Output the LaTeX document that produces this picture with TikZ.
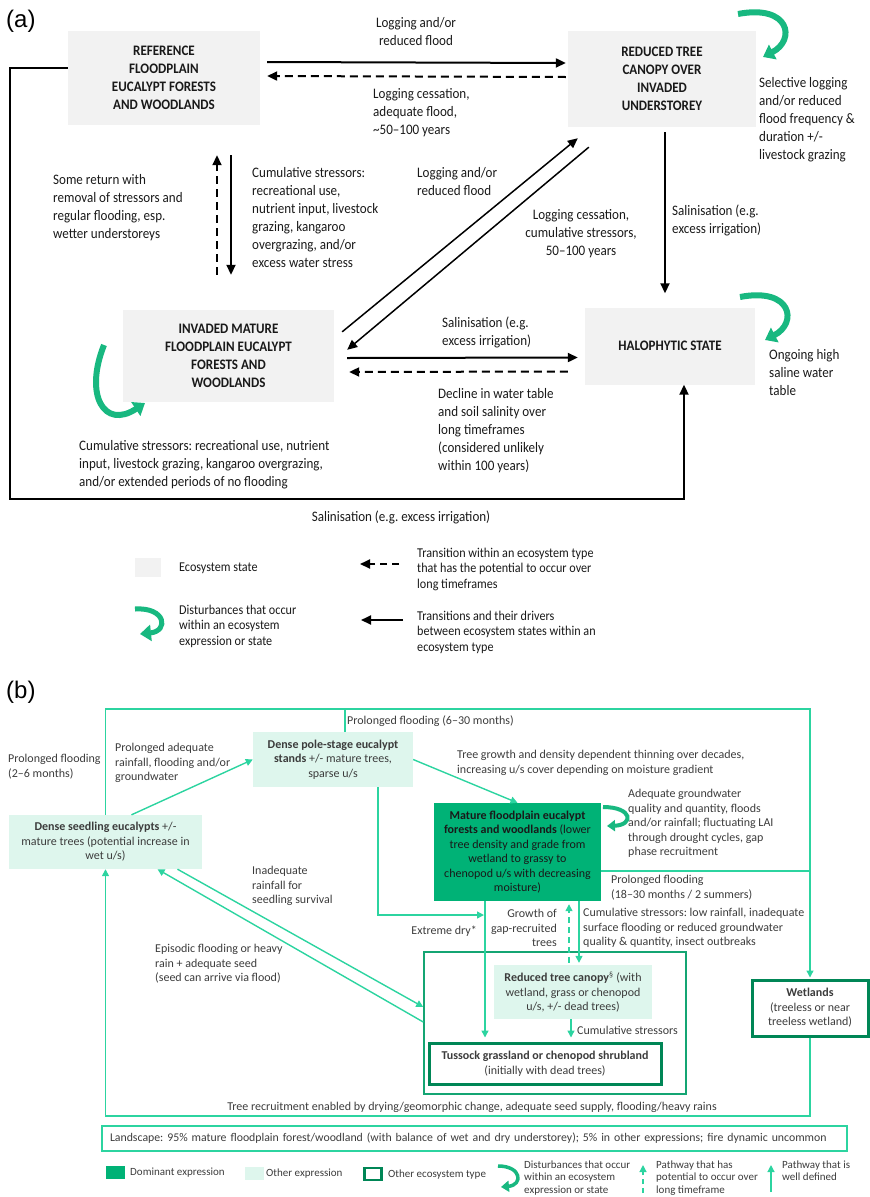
\documentclass[tikz,border=0pt]{standalone}
\usepackage{fontspec}
\setmainfont{Carlito}
\newfontfamily\narrowfont[FakeStretch=0.9]{Carlito}
\newfontfamily\headfont{Liberation Sans}
\usetikzlibrary{arrows.meta}
\frenchspacing

\definecolor{stategray}{RGB}{242,242,242}
\definecolor{curlgreen}{RGB}{24,184,128}
\definecolor{gline}{RGB}{44,212,160}
\definecolor{domgreen}{RGB}{0,178,118}
\definecolor{othgreen}{RGB}{222,246,237}
\definecolor{ecodark}{RGB}{0,134,86}
\definecolor{contgreen}{RGB}{20,165,115}
\definecolor{txta}{RGB}{25,25,25}
\definecolor{txtb}{RGB}{60,60,60}

\newcommand\atxt{\narrowfont\fontsize{14.5}{18}\selectfont}
\newcommand\alegtxt{\narrowfont\fontsize{13.5}{15.5}\selectfont}
\newcommand\btxt{\fontsize{12}{14.5}\selectfont}
\newcommand\blegtxt{\fontsize{11}{12.5}\selectfont}

\tikzset{
  statebox/.style={fill=stategray, align=center, inner sep=0pt, text=txta, font=\atxt\bfseries},
  alab/.style={anchor=base west, align=left, inner sep=0pt, text=txta, font=\atxt},
  aleg/.style={alab, font=\alegtxt},
  arr/.style={line width=2pt, -{Triangle[length=10pt,width=9pt]}},
  darr/.style={arr, dash pattern=on 8pt off 5pt},
  curl/.style={line width=6pt, curlgreen, -{Triangle[length=11pt,width=16pt]}},
  domin/.style={fill=domgreen, align=center, inner sep=0pt, text=txta, font=\btxt},
  other/.style={fill=othgreen, align=center, inner sep=0pt, text=txtb, font=\btxt},
  ecotype/.style={draw=ecodark, line width=3pt, fill=white, align=center, inner sep=0pt, text=txtb, font=\btxt},
  blab/.style={anchor=base west, align=left, inner sep=0pt, text=txtb, font=\btxt},
  bleg/.style={blab, font=\blegtxt},
  gl/.style={gline, line width=1.4pt},
  garr/.style={gl, -{Triangle[length=7pt,width=7pt]}},
  gdash/.style={garr, dash pattern=on 6pt off 4pt},
  bcurl/.style={line width=4pt, curlgreen, -{Triangle[length=8pt,width=11pt]}}
}

\begin{document}
\begin{tikzpicture}[x=1pt, y=-1pt]
	\useasboundingbox (0,0) rectangle (870,1197);

	\node[anchor=base west, inner sep=0pt, font=\headfont\fontsize{24}{28}\selectfont] (hdra) at (6,27) {(a)};

	\node[statebox, minimum width=192pt, minimum height=94pt] (ref) at (164,78) {REFERENCE\\FLOODPLAIN\\EUCALYPT FORESTS\\AND WOODLANDS};
	\node[statebox, minimum width=188pt, minimum height=96pt] (red) at (662,79) {REDUCED TREE\\CANOPY OVER\\INVADED\\UNDERSTOREY};
	\node[statebox, minimum width=211pt, minimum height=92pt] (inv) at (228.5,356) {INVADED MATURE\\FLOODPLAIN EUCALYPT\\FORESTS AND\\WOODLANDS};
	\node[statebox, minimum width=170pt, minimum height=77pt] (halo) at (670,346) {HALOPHYTIC STATE};

	\coordinate (vx1) at (217,0);
	\coordinate (vx2) at (231,0);
	\coordinate (vx3) at (665,0);
	\coordinate (vx4) at (684,0);
	\coordinate (loopbl) at (10,499);

	\draw[arr] ([shift={(7,-16)}]ref.east) -- ([shift={(-2,-16)}]red.west);
	\draw[darr] ([shift={(-2,-2)}]red.west) -- ([shift={(7,-2)}]ref.east);
	\draw[darr, line width=1.8pt, shorten <=35pt, shorten >=30pt] (inv.north -| vx1) -- (ref.south -| vx1);
	\draw[arr, line width=1.8pt, shorten <=30pt, shorten >=35pt] (ref.south -| vx2) -- (inv.north -| vx2);
	\draw[arr, line width=1.5pt] ([shift={(8,22)}]inv.north east) -- ([shift={(10,11)}]red.south west);
	\draw[arr, line width=1.5pt] ([shift={(21,20)}]red.south west) -- ([shift={(13,40)}]inv.north east);
	\draw[arr, line width=1.8pt, shorten <=5pt, shorten >=14pt] (red.south -| vx3) -- (halo.north -| vx3);
	\draw[arr] ([shift={(13,2)}]inv.east) -- ([shift={(-7,11.5)}]halo.west);
	\draw[darr] ([shift={(-17,25.5)}]halo.west) -- ([shift={(15,16)}]inv.east);
	\draw[arr] ([shift={(0,-10)}]ref.west) -| (loopbl) -| (halo.south -| vx4);

	\draw[curl] (738,14) .. controls (790,4) and (796,40) .. (763,57);
	\draw[curl] (740,297) .. controls (792,287) and (798,323) .. (765,340);
	\draw[curl] (104,345) .. controls (84,395) and (104,430) .. (145,403);

	\node[alab, anchor=base, align=center] (lbl1) at (416,45) {Logging and/or\\reduced flood};
	\node[alab] (lbl2) at (373,134) {Logging cessation,\\adequate flood,\\\textasciitilde50–100 years};
	\node[alab] (lbl3) at (759,159) {Selective logging\\and/or reduced\\flood frequency \&\\duration +/-\\livestock grazing};
	\node[alab] (lbl4) at (53,238) {Some return with\\removal of stressors and\\regular flooding, esp.\\wetter understoreys};
	\node[alab] (lbl5) at (252,267) {Cumulative stressors:\\recreational use,\\nutrient input, livestock\\grazing, kangaroo\\overgrazing, and/or\\excess water stress};
	\node[alab] (lbl6) at (417,195) {Logging and/or\\reduced flood};
	\node[alab, anchor=base, align=center] (lbl7) at (581,255) {Logging cessation,\\cumulative stressors,\\50–100 years};
	\node[alab] (lbl8) at (672,233) {Salinisation (e.g.\\excess irrigation)};
	\node[alab] (lbl9) at (442,345) {Salinisation (e.g.\\excess irrigation)};
	\node[alab] (lbl10) at (769,395) {Ongoing high\\saline water\\table};
	\node[alab] (lbl11) at (438,470) {Decline in water table\\and soil salinity over\\long timeframes\\(considered unlikely\\within 100 years)};
	\node[alab] (lbl12) at (79,486) {Cumulative stressors: recreational use, nutrient\\input, livestock grazing, kangaroo overgrazing,\\and/or extended periods of no flooding};
	\node[alab, anchor=base] (lbl13) at (401,521) {Salinisation (e.g. excess irrigation)};

	\node[fill=stategray, minimum width=26pt, minimum height=19pt, inner sep=0pt] (keystate) at (148,567) {};
	\node[aleg] (keystatetxt) at (179,571) {Ecosystem state};
	\draw[darr, dash pattern=on 7pt off 5pt] (399,564) -- (360,564);
	\node[aleg] (keydashtxt) at (417,588) {Transition within an ecosystem type\\that has the potential to occur over\\long timeframes};
	\draw[curl, line width=5pt] (135,609) .. controls (166,607) and (169,631) .. (140,634);
	\node[aleg] (keycurltxt) at (179,645) {Disturbances that occur\\within an ecosystem\\expression or state};
	\draw[arr] (403,620) -- (361,620);
	\node[aleg] (keyarrtxt) at (417,651) {Transitions and their drivers\\between ecosystem states within an\\ecosystem type};

	\node[anchor=base west, inner sep=0pt, font=\headfont\fontsize{24}{28}\selectfont] (hdrb) at (6,698) {(b)};

	\node[other, minimum width=193pt, minimum height=54pt] (seed) at (105.5,842) {\textbf{Dense seedling eucalypts} +/-\\mature trees (potential increase in\\wet u/s)};
	\node[other, minimum width=160pt, minimum height=55pt] (pole) at (333,759.5) {\textbf{Dense pole-stage eucalypt}\\\textbf{stands} +/- mature trees,\\sparse u/s};
	\node[domin, minimum width=167pt, minimum height=98pt] (mat) at (517.5,852) {\textbf{Mature floodplain eucalypt}\\\textbf{forests and woodlands} (lower\\tree density and grade from\\wetland to grassy to\\chenopod u/s with decreasing\\moisture)};
	\node[draw=contgreen, line width=1.5pt, minimum width=262pt, minimum height=142pt] (cont) at (555,1023) {};
	\node[other, minimum width=158pt, minimum height=54pt] (rtc) at (573,992) {\textbf{Reduced tree canopy}\textsuperscript{§} (with\\wetland, grass or chenopod\\u/s, +/- dead trees)};
	\node[ecotype, minimum width=232pt, minimum height=41pt] (tus) at (545,1063.5) {\textbf{Tussock grassland or chenopod shrubland}\\(initially with dead trees)};
	\node[ecotype, minimum width=116pt, minimum height=56pt] (wet) at (810,1008) {\textbf{Wetlands}\\(treeless or near\\treeless wetland)};
	\node[draw=gline, line width=1.4pt, minimum width=745pt, minimum height=25pt, text width=729pt, inner xsep=8pt, inner ysep=0pt, align=left, text=txtb, font=\fontsize{11.8}{14}\selectfont] (land) at (474.5,1138.5) {\mbox{Landscape: 95\% mature floodplain forest/woodland (with balance of wet and dry understorey); 5\% in other expressions; fire dynamic uncommon}};

	\coordinate (topy) at (0,709);
	\coordinate (boty) at (0,1116);
	\coordinate (px) at (345,0);
	\coordinate (xp) at (378,0);
	\coordinate (xd) at (485,0);
	\coordinate (xg) at (569,0);
	\coordinate (xs) at (579,0);
	\coordinate (xr) at (571,0);
	\coordinate (dryj) at (485,915);
	\coordinate (matj) at ([shift={(0,19)}]mat.east);

	\draw[garr, shorten >=1pt] (seed.north) |- (topy -| wet.north) -- (wet.north);
	\draw[gl] (pole.north -| px) -- (topy -| px);
	\draw[gl] (matj) -- (matj -| wet.north);
	\draw[garr] ([shift={(26,0)}]seed.north) -- (pole.west);
	\draw[garr] (pole.east) -- (mat.north);
	\draw[garr, shorten >=1pt] (pole.south -| xp) |- (dryj);
	\draw[garr, shorten >=4pt] (mat.south -| xd) -- (tus.north -| xd);
	\draw[garr, shorten >=2pt] (mat.south -| xs) -- (rtc.north -| xs);
	\draw[gdash, shorten <=2pt, shorten >=3pt] (rtc.north -| xg) -- (mat.south -| xg);
	\draw[garr, shorten >=4pt] (rtc.south -| xr) -- (tus.north -| xr);
	\draw[garr] ([shift={(72,0)}]seed.south) -- ([shift={(0,-16)}]cont.west);
	\draw[garr] ([shift={(0,-1)}]cont.west) -- ([shift={(52,0)}]seed.south);
	\draw[garr] (wet.south) -- (wet.south |- boty) -| (seed.south);

	\draw[bcurl] (603,807) .. controls (633,807) and (634,825) .. (607,826);

	\node[blab] (blbl1) at (8,777) {Prolonged flooding\\(2–6 months)};
	\node[blab] (blbl2) at (115,780.5) {Prolonged adequate\\rainfall, flooding and/or\\groundwater};
	\node[blab] (blbl3) at (347,724.5) {Prolonged flooding (6–30 months)};
	\node[blab] (blbl4) at (457,773) {Tree growth and density dependent thinning over decades,\\increasing u/s cover depending on moisture gradient};
	\node[blab] (blbl5) at (628,855.5) {Adequate groundwater\\quality and quantity, floods\\and/or rainfall; fluctuating LAI\\through drought cycles, gap\\phase recruitment};
	\node[blab] (blbl6) at (611,898) {Prolonged flooding\\(18–30 months / 2 summers)};
	\node[blab] (blbl7) at (252,903.5) {Inadequate\\rainfall for\\seedling survival};
	\node[blab, anchor=base east] (blbl8) at (477,934.5) {Extreme dry*};
	\node[blab, anchor=base east, align=right] (blbl9) at (557,946.5) {Growth of\\gap-recruited\\trees};
	\node[blab] (blbl10) at (583,945.5) {Cumulative stressors: low rainfall, inadequate\\surface flooding or reduced groundwater\\quality \& quantity, insect outbreaks};
	\node[blab] (blbl11) at (155,981.5) {Episodic flooding or heavy\\rain + adequate seed\\(seed can arrive via flood)};
	\node[blab] (blbl12) at (577,1034.5) {Cumulative stressors};
	\node[blab, anchor=base] (blbl13) at (472,1110.5) {Tree recruitment enabled by drying/geomorphic change, adequate seed supply, flooding/heavy rains};

	\node[fill=domgreen, minimum width=19pt, minimum height=13pt, inner sep=0pt] (keydom) at (115,1172) {};
	\node[bleg] (keydomtxt) at (130,1175.5) {Dominant expression};
	\node[fill=othgreen, minimum width=19pt, minimum height=13pt, inner sep=0pt] (keyoth) at (254,1173) {};
	\node[bleg] (keyothtxt) at (266,1176.5) {Other expression};
	\node[draw=ecodark, line width=2.5pt, minimum width=17pt, minimum height=12pt, inner sep=0pt] (keyeco) at (373,1174) {};
	\node[bleg] (keyecotxt) at (388,1177.5) {Other ecosystem type};
	\draw[bcurl, line width=3.5pt] (498,1166) .. controls (522,1166) and (523,1185) .. (501,1187);
	\node[bleg] (keycurlbtxt) at (524,1193) {Disturbances that occur\\within an ecosystem\\expression or state};
	\draw[gdash, line width=1.2pt, dash pattern=on 5pt off 4pt] (643,1193) -- (643,1165);
	\node[bleg] (keygdashtxt) at (656,1193) {Pathway that has\\potential to occur over\\long timeframe};
	\draw[garr, line width=1.2pt] (771,1192) -- (771,1165);
	\node[bleg] (keygarrtxt) at (782,1180.5) {Pathway that is\\well defined};
\end{tikzpicture}
\end{document}
